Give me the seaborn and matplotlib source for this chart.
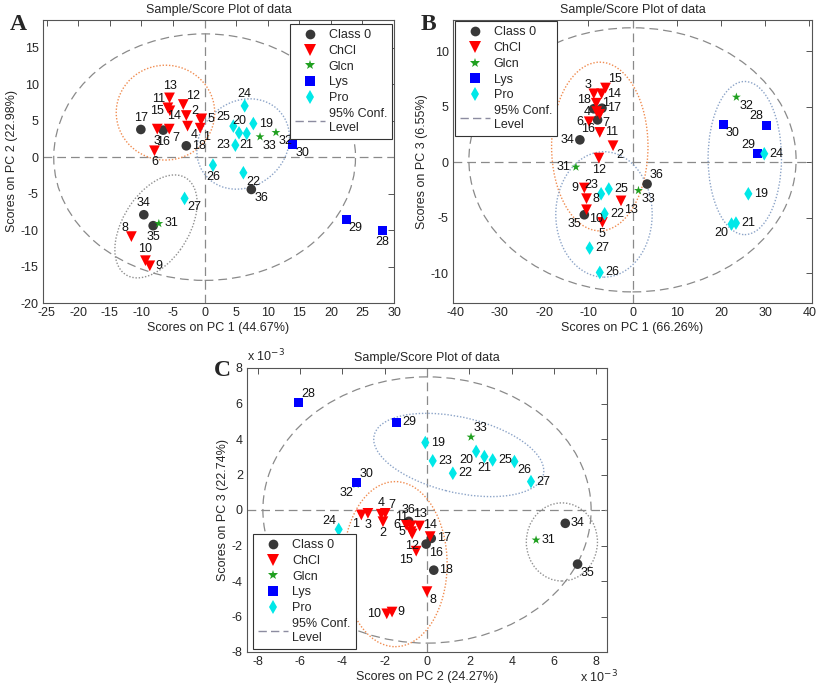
import numpy as np
import pandas as pd
import matplotlib
matplotlib.use("Agg")
import matplotlib.pyplot as plt
import seaborn as sns
from matplotlib.patches import Ellipse
from matplotlib.lines import Line2D

sns.set_theme(style="white")
plt.rcParams['font.family'] = ['Liberation Sans', 'DejaVu Sans']
plt.rcParams['axes.unicode_minus'] = False

# ---------------- data ----------------
sample_ids = list(range(1, 37))
groups_by_id = (['ChCl'] * 15 + ['Class 0'] * 3 + ['Pro'] * 9 + ['Lys'] * 3 +
                ['Glcn'] * 3 + ['Class 0'] * 3)
group_order = ['Class 0', 'ChCl', 'Glcn', 'Lys', 'Pro']

# Panel A: PC1 vs PC2
a_pc1 = [-0.7, -0.58, -7.5, -2.7, -0.45, -7.94, -5.6, -11.6, -8.68, -9.37, -5.82, -3.38,
         -5.56, -2.9, -5.5, -6.56, -10.1, -2.9, 7.72, 5.45, 6.67, 6.14, 4.87, 6.35,
         4.55, 1.32, -3.17, 28.2, 22.4, 13.97, -7.25, 11.3, 8.78, -9.63, -8.15, 7.4]
a_pc2 = [3.97, 5.07, 3.84, 4.25, 5.25, 0.87, 3.84, -10.9, -14.9, -14.2, 6.76, 7.21,
         8.12, 5.7, 6.35, 3.7, 3.79, 1.55, 4.6, 3.33, 3.24, -2.14, 1.64, 7.03,
         4.25, -1.1, -5.66, -10.1, -8.5, 1.78, -9.1, 3.38, 2.79, -7.9, -9.4, -4.43]

# Panel B: PC1 vs PC3
b_pc1 = [-8.2, -4.4, -8.76, -8.1, -6.8, -9.8, -7.4, -10.4, -10.9, -10.4, -7.4, -7.6,
         -2.6, -7.0, -6.1, -7.9, -6.9, -8.75, 26.2, 22.4, 23.4, -6.3, -7.1, 29.8,
         -5.36, -7.4, -9.7, 30.3, 28.3, 20.5, -12.8, 23.5, 1.35, -11.9, -10.9, 3.3]
b_pc3 = [5.3, 1.47, 6.15, 4.55, -5.44, 3.63, 4.3, -3.3, -2.34, -4.3, 2.67, 0.36,
         -3.5, 6.15, 6.67, 3.8, 4.85, 4.8, -2.86, -5.59, -5.5, -4.66, -2.86, 0.75,
         -2.43, -9.95, -7.75, 3.33, 0.78, 3.42, -0.45, 5.85, -2.56, 2.0, -4.75, -1.98]

# Panel C: PC2 vs PC3 (values x 10^-3)
c_pc2 = [-3.1, -2.08, -2.79, -2.16, -0.75, -0.98, -1.97, 0.0, -1.65, -1.9, -0.75, -0.7,
         -0.35, 0.15, -0.51, -0.04, 0.2, 0.32, -0.08, 2.32, 2.71, 1.22, 0.27, -4.17,
         3.1, 4.13, 4.91, -6.09, -1.45, -3.31, 5.15, -3.35, 2.08, 6.53, 7.11, -0.86]
c_pc3 = [-0.28, -0.66, -0.19, -0.24, -1.22, -0.85, -0.19, -4.6, -5.75, -5.85, -0.9, -1.35,
         -0.9, -1.5, -2.32, -1.92, -1.6, -3.39, 3.8, 3.3, 3.01, 2.07, 2.77, -1.09,
         2.82, 2.73, 1.6, 6.06, 4.95, 1.54, -1.69, 1.45, 4.11, -0.75, -3.05, -0.64]

# label placement per sample (direction codes)
a_lab = {1:'br',2:'ul',3:'b',4:'br',5:'r',6:'b',7:'br',8:'ul',9:'r',10:'a',11:'ul',12:'ur',
         13:'a',14:'l',15:'l',16:'b',17:'a',18:'r',19:'r',20:'a',21:'b',22:'br',23:'l',24:'a',
         25:'ul',26:'b',27:'br',28:'b',29:'br',30:'br',31:'r',32:'br',33:'br',34:'a',35:'b',36:'br'}
b_lab = {1:'r',2:'br',3:'ul',4:'l',5:'b',6:'l',7:'br',8:'r',9:'l',10:'br',11:'r',12:'b',
         13:'br',14:'r',15:'ur',16:'bl',17:'r',18:'ul',19:'r',20:'bl',21:'r',22:'r',23:'ul',24:'r',
         25:'r',26:'r',27:'r',28:'ul',29:'ul',30:'br',31:'l',32:'br',33:'br',34:'l',35:'bl',36:'ur'}
c_lab = {1:'bl',2:'b',3:'b',4:'a',5:'l',6:'l',7:'ur',8:'br',9:'r',10:'l',11:'ul',12:'b',
         13:'a',14:'a',15:'bl',16:'br',17:'r',18:'r',19:'r',20:'bl',21:'b',22:'r',23:'r',24:'ul',
         25:'r',26:'br',27:'r',28:'ur',29:'r',30:'ur',31:'r',32:'bl',33:'ur',34:'r',35:'br',36:'a'}

# ---------------- styles ----------------
palette = {'Class 0': '#383838', 'ChCl': '#ff0000', 'Glcn': '#20a020',
           'Lys': '#0000ff', 'Pro': '#00e8e8'}
markers = {'Class 0': 'o', 'ChCl': 'v', 'Glcn': '*', 'Lys': 's', 'Pro': 'd'}
sizes = {'Class 0': 48, 'ChCl': 60, 'Glcn': 45, 'Lys': 42, 'Pro': 48}
leg_ms = {'Class 0': 7, 'ChCl': 8, 'Glcn': 7, 'Lys': 7, 'Pro': 7}

DIRS = {'r': ((4, 0), 'left', 'center'), 'l': ((-4, 0), 'right', 'center'),
        'a': ((0, 4), 'center', 'bottom'), 'b': ((0, -4), 'center', 'top'),
        'ur': ((2, 2), 'left', 'bottom'), 'ul': ((-2, 2), 'right', 'bottom'),
        'br': ((2, -2), 'left', 'top'), 'bl': ((-2, -2), 'right', 'top')}

ELL_STY = {'conf': dict(ls=(0, (7, 4)), ec='#8a8a8a', lw=0.9),
           'orange': dict(ls=(0, (1, 1.3)), ec='#f08c50', lw=1.0),
           'blue': dict(ls=(0, (1, 1.3)), ec='#8ca4c8', lw=1.0),
           'gray': dict(ls=(0, (1, 1.3)), ec='#909090', lw=1.0)}

fig = plt.figure(figsize=(8.17, 6.89), dpi=100)
W, H = 817, 689


def make_ax(l, t, r, b):
    return fig.add_axes([l / W, 1 - b / H, (r - l) / W, (b - t) / H])


def draw_panel(ax, xs, ys, labdirs, xlim, ylim, xticks, yticks, xlabel, ylabel,
               ellipses, legend_anchor, legend_loc):
    df = pd.DataFrame({'id': sample_ids, 'x': xs, 'y': ys, 'group': groups_by_id})
    df['ord'] = df['group'].map({g: i for i, g in enumerate(group_order)})
    df = df.sort_values(['ord', 'id'])
    ax.axhline(0, color='#8a8a8a', ls=(0, (7, 4)), lw=0.9, zorder=1)
    ax.axvline(0, color='#8a8a8a', ls=(0, (7, 4)), lw=0.9, zorder=1)
    for (cx, cy, w, h, ang, sty) in ellipses:
        ax.add_patch(Ellipse((cx, cy), w, h, angle=ang, fill=False, zorder=2, **ELL_STY[sty]))
    sns.scatterplot(data=df, x='x', y='y', hue='group', style='group', size='group',
                    hue_order=group_order, style_order=group_order, size_order=group_order,
                    palette=palette, markers=markers, sizes=sizes, linewidth=0,
                    legend=False, ax=ax, zorder=3)
    for i, x, y in zip(sample_ids, xs, ys):
        (dx, dy), ha, va = DIRS[labdirs[i]]
        ax.annotate(str(i), (x, y), xytext=(dx, dy), textcoords='offset points',
                    ha=ha, va=va, fontsize=9, color='#111111', zorder=4)
    ax.set_xlim(*xlim)
    ax.set_ylim(*ylim)
    ax.set_xticks(xticks)
    ax.set_yticks(yticks)
    ax.set_xlabel(xlabel, fontsize=9, labelpad=2)
    ax.set_ylabel(ylabel, fontsize=9, labelpad=2)
    ax.set_title('Sample/Score Plot of data', fontsize=9, pad=5)
    ax.tick_params(direction='in', length=4, width=0.7, top=True, right=True,
                   labelsize=9, pad=3, color='#555555')
    for s in ax.spines.values():
        s.set_color('#555555')
        s.set_linewidth(0.8)
    handles = [Line2D([], [], ls='none', marker=markers[g], color=palette[g],
                      markersize=leg_ms[g], markeredgewidth=0) for g in group_order]
    handles.append(Line2D([], [], color='#8c8ca0', ls=(0, (6, 3)), lw=1.0))
    labels = group_order + ['95% Conf.\nLevel']
    leg = ax.legend(handles, labels, loc=legend_loc, bbox_to_anchor=legend_anchor,
                    fontsize=9, frameon=True, fancybox=False, framealpha=1,
                    edgecolor='#333333', borderpad=0.4, labelspacing=0.3,
                    handlelength=2.4, handletextpad=0.3, borderaxespad=0)
    leg.get_frame().set_linewidth(0.8)
    leg.set_zorder(5)


axA = make_ax(43, 20, 394, 303)
draw_panel(axA, a_pc1, a_pc2, a_lab, (-25.6, 30), (-20, 18.8),
           np.arange(-25, 31, 5), np.arange(-20, 16, 5),
           'Scores on PC 1 (44.67%)', 'Scores on PC 2 (22.98%)',
           [(0, 0, 47.8, 33.8, 0, 'conf'), (-6.2, 6.1, 15.6, 13.0, 0, 'orange'),
            (6.1, 1.8, 15.0, 12.0, 20, 'blue'), (-7.7, -9.5, 16.4, 10.0, 50, 'gray')],
           (0.995, 0.985), 'upper right')

axB = make_ax(453, 20, 812, 303)
draw_panel(axB, b_pc1, b_pc3, b_lab, (-40.6, 40.6), (-12.7, 12.8),
           np.arange(-40, 41, 10), np.arange(-10, 11, 5),
           'Scores on PC 1 (66.26%)', 'Scores on PC 3 (6.55%)',
           [(0, 0.2, 74, 23.8, 0, 'conf'), (-7.4, 1.4, 21.8, 15.2, 0, 'orange'),
            (-6.45, -4.72, 21.8, 11.3, 0, 'blue'), (25.4, 0.36, 16.6, 13.8, 0, 'blue')],
           (0.005, 0.995), 'upper left')

axC = make_ax(247, 368, 607, 652)
draw_panel(axC, c_pc2, c_pc3, c_lab, (-8.5, 8.5), (-8, 8),
           np.arange(-8, 9, 2), np.arange(-8, 9, 2),
           'Scores on PC 2 (24.27%)', 'Scores on PC 3 (22.74%)',
           [(0, 0, 15.5, 15.0, 0, 'conf'), (-1.5, -3.05, 4.9, 9.3, 0, 'orange'),
            (1.5, 3.1, 8.3, 4.2, -17, 'blue'), (6.37, -1.8, 3.36, 4.4, 0, 'gray')],
           (0.018, 0.415), 'upper left')
axC.text(0.0, 1.012, r'x 10$^{-3}$', transform=axC.transAxes, ha='left', va='bottom', fontsize=9)
axC.text(1.03, -0.06, r'x 10$^{-3}$', transform=axC.transAxes, ha='right', va='top', fontsize=9)

for letter, (px, py) in {'A': (18, 24), 'B': (428, 24), 'C': (222, 371)}.items():
    fig.text(px / W, 1 - py / H, letter, fontsize=17, fontweight='bold',
             family=['Liberation Serif', 'DejaVu Serif'], ha='center', va='center')

fig.savefig('out.png', dpi=100)
